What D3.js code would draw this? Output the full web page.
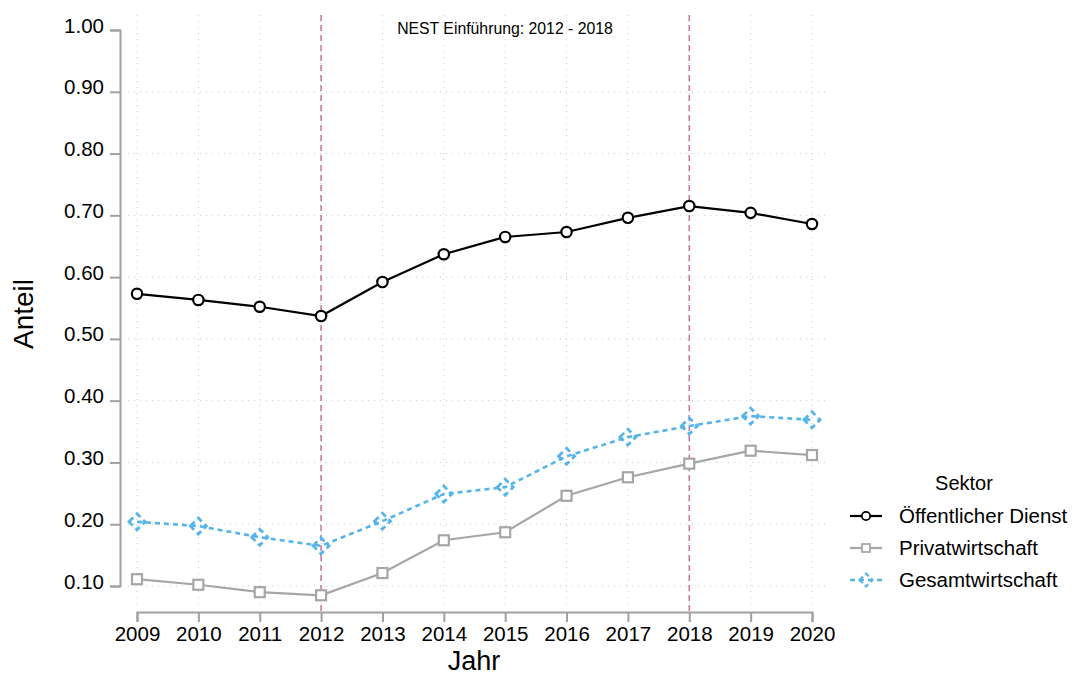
<!DOCTYPE html>
<html>
<head>
<meta charset="utf-8">
<script src="https://cdn.jsdelivr.net/npm/d3@7"></script>
<style>
  body { margin: 0; background: #fff; }
  text { font-family: Arial, "Liberation Sans", sans-serif; fill: #000; }
</style>
</head>
<body>
<div id="chart"></div>
<script>
// data
var years = [2009, 2010, 2011, 2012, 2013, 2014, 2015, 2016, 2017, 2018, 2019, 2020];
var oeffentlich = [0.573, 0.563, 0.552, 0.537, 0.592, 0.637, 0.665, 0.673, 0.696, 0.715, 0.704, 0.686];
var privat = [0.111, 0.102, 0.090, 0.085, 0.121, 0.174, 0.187, 0.246, 0.276, 0.298, 0.319, 0.312];
var gesamt = [0.204, 0.197, 0.179, 0.165, 0.205, 0.249, 0.260, 0.310, 0.341, 0.359, 0.375, 0.369];
var yTicks = [0.1, 0.2, 0.3, 0.4, 0.5, 0.6, 0.7, 0.8, 0.9, 1.0];
var nestYears = [2012, 2018];

var width = 1074, height = 676;

var svg = d3.select('#chart')
	.append('svg')
	.attr('width', width)
	.attr('height', height);

//Scales
var x = d3.scaleLinear().domain([2009, 2020]).range([137, 812]);
var y = d3.scaleLinear().domain([0.1, 1.0]).range([586, 30]);

//Grid
svg.append("g").selectAll("line")
	.data(years)
	.enter().append("line")
	.attr("x1", function(d) { return x(d); })
	.attr("x2", function(d) { return x(d); })
	.attr("y1", 15)
	.attr("y2", 604)
	.attr("stroke", "#c8c8c8")
	.attr("stroke-width", 1)
	.attr("stroke-dasharray", "1,5");

svg.append("g").selectAll("line")
	.data(yTicks.filter(function(d) { return d < 1; }))
	.enter().append("line")
	.attr("x1", 128)
	.attr("x2", 830)
	.attr("y1", function(d) { return y(d); })
	.attr("y2", function(d) { return y(d); })
	.attr("stroke", "#c8c8c8")
	.attr("stroke-width", 1)
	.attr("stroke-dasharray", "1,5");

//NEST lines
svg.append("g").selectAll("line")
	.data(nestYears)
	.enter().append("line")
	.attr("x1", function(d) { return x(d); })
	.attr("x2", function(d) { return x(d); })
	.attr("y1", 15)
	.attr("y2", 612)
	.attr("stroke", "#cc79a7")
	.attr("stroke-width", 1.6)
	.attr("stroke-dasharray", "6,4");

svg.append("text")
	.attr("x", 505)
	.attr("y", 34)
	.attr("text-anchor", "middle")
	.style("font-size", "15.8px")
	.text("NEST Einführung: 2012 - 2018");

//Axes
var yAxis = svg.append("g")
	.attr("class", "y axis")
	.attr("transform", "translate(120,0)")
	.call(d3.axisLeft(y).tickValues(yTicks).tickFormat(d3.format(".2f")).tickSize(10).tickPadding(6));

var xAxis = svg.append("g")
	.attr("class", "x axis")
	.attr("transform", "translate(0,612)")
	.call(d3.axisBottom(x).tickValues(years).tickFormat(d3.format("d")).tickSize(10).tickPadding(4));

svg.selectAll(".axis path, .axis line")
	.attr("stroke", "#a0a0a0")
	.attr("stroke-width", 2);
svg.selectAll(".axis text")
	.style("font-size", "20.5px")
	.attr("fill", "#000");
svg.selectAll(".y.axis text").attr("dy", "0.1em");

svg.append("text")
	.attr("x", 474)
	.attr("y", 670)
	.attr("text-anchor", "middle")
	.style("font-size", "27px")
	.text("Jahr");

svg.append("text")
	.attr("transform", "translate(33,314) rotate(-90)")
	.attr("text-anchor", "middle")
	.style("font-size", "28px")
	.text("Anteil");

//Series
var series = [
	{ name: "Öffentlicher Dienst", values: oeffentlich, color: "#000000", dash: null, width: 2.2, marker: "circle" },
	{ name: "Privatwirtschaft", values: privat, color: "#a6a6a6", dash: null, width: 2.2, marker: "square" },
	{ name: "Gesamtwirtschaft", values: gesamt, color: "#56b4e9", dash: "5,4", width: 2.6, marker: "diamond" }
];

var line = d3.line()
	.x(function(d, i) { return x(years[i]); })
	.y(function(d) { return y(d); });

var drawMarker = function(g, type, color) {
	var m;
	if (type === "circle") {
		m = g.append("circle").attr("r", 5.2);
	} else if (type === "square") {
		m = g.append("rect").attr("x", -5).attr("y", -5).attr("width", 10).attr("height", 10);
	} else {
		m = g.append("path").attr("d", "M-8,0L0,-8L8,0L0,8Z").attr("stroke-dasharray", "6,4");
	}
	m.attr("fill", type === "diamond" ? "none" : "#fff")
		.attr("stroke", color)
		.attr("stroke-width", type === "diamond" ? 2.8 : 2.2);
};

series.forEach(function(s) {
	svg.append("path")
		.datum(s.values)
		.attr("fill", "none")
		.attr("stroke", s.color)
		.attr("stroke-width", s.width)
		.attr("stroke-dasharray", s.dash)
		.attr("d", line);

	svg.append("g").selectAll("g")
		.data(s.values)
		.enter().append("g")
		.attr("transform", function(d, i) { return "translate(" + x(years[i]) + "," + y(d) + ")"; })
		.each(function() { drawMarker(d3.select(this), s.marker, s.color); });
});

//Legend
var legend = svg.append("g").attr("transform", "translate(850,0)");
legend.append("text")
	.attr("x", 114)
	.attr("y", 490)
	.attr("text-anchor", "middle")
	.style("font-size", "20px")
	.text("Sektor");

var item = legend.selectAll(".item")
	.data(series)
	.enter().append("g")
	.attr("class", "item")
	.attr("transform", function(d, i) { return "translate(0," + (516 + i * 32) + ")"; });

item.append("line")
	.attr("x1", 0)
	.attr("x2", 32)
	.attr("stroke", function(d) { return d.color; })
	.attr("stroke-width", function(d) { return d.width; })
	.attr("stroke-dasharray", function(d) { return d.dash; });

item.append("g")
	.attr("transform", "translate(16,0) scale(0.8)")
	.each(function(d) { drawMarker(d3.select(this), d.marker, d.color); });

item.append("text")
	.attr("x", 49)
	.attr("dy", "0.35em")
	.style("font-size", "20.5px")
	.text(function(d) { return d.name; });
</script>
</body>
</html>
